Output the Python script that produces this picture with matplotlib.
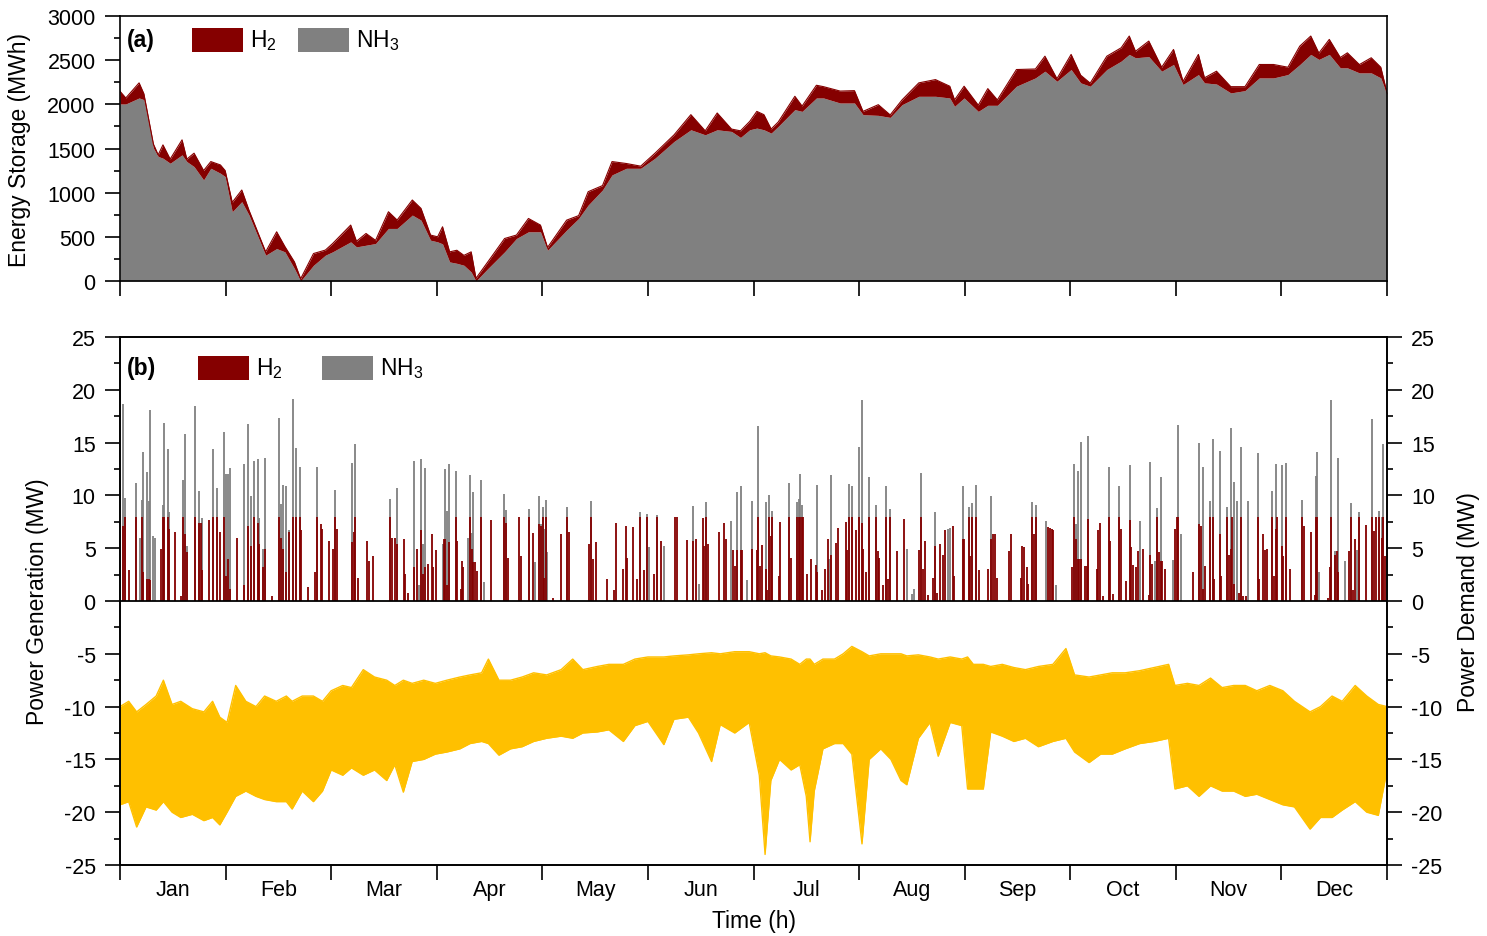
import numpy as np
import matplotlib
matplotlib.use("Agg")
import matplotlib.pyplot as plt
from matplotlib.patches import Rectangle
from matplotlib.ticker import MultipleLocator, FixedLocator

plt.rcParams['font.family'] = ['Liberation Sans', 'DejaVu Sans']
plt.rcParams['mathtext.fontset'] = 'custom'
plt.rcParams['mathtext.rm'] = 'Liberation Sans'
plt.rcParams['mathtext.it'] = 'Liberation Sans:italic'
plt.rcParams['mathtext.bf'] = 'Liberation Sans:bold'
plt.rcParams['axes.unicode_minus'] = False

# ---------------- data ----------------
months = ['Jan', 'Feb', 'Mar', 'Apr', 'May', 'Jun', 'Jul', 'Aug', 'Sep', 'Oct', 'Nov', 'Dec']
month_edges = [0, 730, 1460, 2190, 2920, 3650, 4380, 5110, 5840, 6570, 7300, 8030, 8760]

# (a) energy storage: hour, total (H2 + NH3 top), NH3 level (MWh)
storage_hours = [0, 40, 132, 165, 231, 264, 297, 347, 429, 462, 512, 578, 628, 694, 727, 776, 842, 892,
                 1007, 1083, 1140, 1206, 1249, 1338, 1420, 1470, 1595, 1635, 1701, 1767, 1856, 1916,
                 2021, 2081, 2147, 2196, 2230, 2279, 2329, 2378, 2428, 2461, 2543, 2659, 2741, 2824,
                 2907, 2956, 3088, 3171, 3237, 3336, 3402, 3501, 3600, 3699, 3831, 3947, 4046, 4129,
                 4228, 4290, 4354, 4403, 4452, 4502, 4551, 4666, 4716, 4815, 4864, 4979, 5078, 5137,
                 5243, 5325, 5407, 5523, 5638, 5737, 5770, 5836, 5934, 6000, 6066, 6198, 6329, 6395,
                 6478, 6576, 6642, 6708, 6823, 6922, 6978, 7021, 7113, 7202, 7284, 7350, 7456, 7498,
                 7581, 7680, 7778, 7877, 7976, 8075, 8157, 8233, 8289, 8361, 8437, 8486, 8569, 8651,
                 8717, 8760]
storage_total = [2148, 2072, 2243, 2120, 1550, 1428, 1541, 1380, 1598, 1380, 1447, 1250, 1352, 1314, 1250,
                 890, 1030, 800, 330, 557, 390, 216, 25, 311, 350, 424, 633, 450, 538, 460, 784, 690,
                 917, 822, 520, 500, 614, 330, 348, 290, 330, 30, 216, 481, 520, 708, 633, 380, 689,
                 740, 1011, 1080, 1352, 1330, 1300, 1447, 1655, 1883, 1700, 1902, 1720, 1700, 1807,
                 1920, 1883, 1720, 1800, 2091, 1980, 2216, 2200, 2150, 2155, 1920, 1996, 1880, 2050,
                 2243, 2280, 2205, 2050, 2205, 1990, 2178, 2050, 2394, 2400, 2545, 2290, 2565, 2330,
                 2240, 2545, 2640, 2773, 2600, 2716, 2420, 2621, 2260, 2565, 2300, 2375, 2200, 2200,
                 2451, 2451, 2420, 2659, 2773, 2580, 2735, 2530, 2583, 2450, 2527, 2420, 2130]
storage_nh3 = [2004, 2004, 2072, 2053, 1504, 1410, 1390, 1333, 1428, 1352, 1295, 1144, 1276, 1220, 1182,
               784, 898, 746, 292, 367, 330, 140, 0, 178, 292, 330, 443, 386, 405, 424, 595, 595,
               746, 689, 462, 443, 420, 216, 200, 178, 102, 0, 140, 330, 481, 557, 557, 348, 576,
               708, 860, 1030, 1201, 1276, 1276, 1390, 1580, 1712, 1655, 1712, 1693, 1625, 1712,
               1731, 1712, 1674, 1750, 1940, 1920, 2072, 2072, 2015, 2015, 1883, 1875, 1852, 1996,
               2091, 2091, 2072, 1977, 2072, 1920, 1989, 1989, 2205, 2299, 2375, 2261, 2394, 2243,
               2205, 2394, 2489, 2565, 2527, 2540, 2375, 2451, 2224, 2337, 2243, 2230, 2129, 2155,
               2299, 2299, 2337, 2450, 2565, 2508, 2565, 2413, 2413, 2356, 2356, 2299, 2110]

# (b) power generation events: hour, H2 (MW), NH3 (MW)
gen_hours = [18, 37, 65, 111, 138, 152, 159, 184, 198, 210, 226, 242, 283, 300, 307, 332, 341, 383, 422,
             438, 449, 466, 521, 544, 558, 569, 618, 641, 668, 691, 717, 731, 744, 761, 811, 857, 883,
             906, 929, 952, 961, 986, 1000, 1051, 1097, 1111, 1127, 1145, 1168, 1194, 1217, 1242, 1251,
             1300, 1348, 1364, 1387, 1399, 1443, 1475, 1484, 1498, 1602, 1618, 1627, 1643, 1705, 1724,
             1747, 1867, 1881, 1901, 1917, 1964, 1973, 1991, 2035, 2051, 2070, 2083, 2097, 2109, 2132,
             2157, 2166, 2185, 2231, 2240, 2249, 2263, 2275, 2323, 2332, 2355, 2362, 2374, 2404, 2420,
             2431, 2441, 2454, 2466, 2494, 2517, 2563, 2657, 2671, 2683, 2761, 2775, 2826, 2858, 2872,
             2899, 2911, 2922, 2934, 2945, 2955, 2996, 3047, 3093, 3102, 3240, 3259, 3273, 3289, 3365,
             3416, 3429, 3475, 3498, 3508, 3547, 3572, 3595, 3623, 3641, 3658, 3692, 3715, 3738, 3759,
             3837, 3849, 3923, 3959, 3980, 4005, 4029, 4040, 4052, 4063, 4144, 4176, 4190, 4224, 4236,
             4252, 4268, 4291, 4303, 4337, 4367, 4402, 4413, 4425, 4439, 4464, 4476, 4487, 4499, 4508,
             4554, 4563, 4628, 4637, 4678, 4692, 4702, 4715, 4725, 4748, 4775, 4810, 4821, 4851, 4872,
             4893, 4902, 4914, 4948, 4964, 5017, 5027, 5040, 5061, 5089, 5109, 5128, 5139, 5158, 5181,
             5227, 5239, 5250, 5275, 5298, 5308, 5324, 5370, 5423, 5444, 5474, 5490, 5522, 5540, 5552,
             5566, 5589, 5619, 5637, 5651, 5669, 5692, 5706, 5725, 5739, 5757, 5766, 5826, 5835, 5870,
             5877, 5893, 5921, 5937, 6004, 6020, 6034, 6050, 6061, 6144, 6163, 6227, 6239, 6250, 6269,
             6280, 6308, 6317, 6331, 6405, 6418, 6430, 6442, 6453, 6471, 6580, 6596, 6608, 6621, 6633,
             6642, 6670, 6684, 6693, 6753, 6764, 6776, 6794, 6836, 6847, 6868, 6907, 6919, 6956, 6981,
             6993, 7006, 7022, 7036, 7050, 7075, 7112, 7124, 7133, 7156, 7172, 7181, 7195, 7207, 7225,
             7283, 7297, 7310, 7317, 7336, 7421, 7462, 7474, 7488, 7499, 7536, 7555, 7564, 7605, 7615,
             7656, 7665, 7679, 7691, 7702, 7725, 7737, 7748, 7767, 7785, 7799, 7866, 7877, 7900, 7919,
             7930, 7963, 7979, 7990, 8002, 8034, 8043, 8062, 8089, 8175, 8186, 8232, 8262, 8271, 8278,
             8292, 8354, 8366, 8375, 8400, 8412, 8424, 8472, 8495, 8511, 8523, 8541, 8555, 8566, 8615,
             8659, 8670, 8682, 8707, 8725, 8735, 8744]
gen_h2 = [7.1, 8.0, 2.9, 8.0, 0, 8.0, 2.7, 2.1, 2.1, 2.0, 0, 0, 4.9, 8.0, 8.0, 8.0, 6.8, 6.5, 0.5,
          8.0, 6.3, 4.6, 8.0, 7.4, 7.4, 2.9, 7.7, 8.0, 8.0, 6.5, 8.0, 2.4, 4.0, 1.1, 6.0, 1.5, 7.1,
          5.2, 8.0, 7.4, 5.4, 3.2, 4.9, 0.5, 8.0, 6.0, 4.9, 2.7, 6.5, 8.0, 8.0, 8.0, 6.7,
          1.3, 2.7, 8.0, 7.3, 6.8, 5.7, 4.9, 8.0, 6.8, 5.6, 6.5, 8.0, 2.2, 5.7, 3.8,
          4.3, 8.0, 6.0, 6.0, 5.4, 5.9, 2.6, 0.8, 3.2, 4.9, 0, 6.7, 2.6, 3.2, 3.5,
          6.3, 3.2, 4.8, 0, 5.9, 5.9, 1.5, 5.6, 8.0, 5.7, 1.1, 3.8, 3.2, 0, 8.0,
          4.9, 3.7, 3.7, 2.8, 8.0, 0, 7.7, 8.0, 7.4, 4.1, 8.0, 4.3, 8.0, 6.4, 0,
          7.3, 7.1, 8.0, 2.2, 8.0, 0, 0.3, 6.3, 8.0, 6.5, 5.4, 8.0, 4.0, 5.6, 2.1,
          1.0, 7.4, 3.0, 7.1, 4.1, 7.0, 2.1, 8.0, 2.9, 8.0, 0, 2.6, 8.0, 5.7, 0,
          8.0, 8.0, 5.8, 5.7, 5.9, 0, 7.9, 5.2, 8.0, 5.4, 6.5, 7.4, 5.9, 0, 4.8,
          3.3, 4.8, 4.8, 4.8, 0, 4.9, 4.8, 8.0, 3.3, 5.3, 3.0, 1.0, 8.0, 6.2, 8.0,
          2.4, 7.5, 8.0, 4.1, 8.0, 8.0, 8.0, 8.0, 8.0, 2.6, 4.0, 3.4, 2.7, 1.0, 3.0,
          5.9, 0, 4.4, 5.5, 6.9, 7.5, 4.8, 8.0, 8.0, 6.7, 8.0, 7.4, 4.9, 2.7, 8.0,
          8.0, 4.7, 4.1, 1.5, 8.0, 2.1, 8.0, 4.7, 7.8, 0, 0, 0, 4.8, 8.0, 3.0,
          5.7, 0.6, 2.2, 5.2, 0.8, 5.4, 4.4, 6.7, 0, 0, 7.1, 2.4, 5.9, 5.9, 8.0,
          4.3, 8.0, 8.0, 2.9, 3.0, 5.9, 6.3, 6.3, 2.2, 4.7, 6.3, 2.2, 5.2, 5.1, 3.2,
          1.6, 8.0, 6.3, 8.0, 0, 7.0, 6.9, 6.8, 6.7, 0, 3.2, 8.0, 5.9, 4.0, 4.0,
          4.0, 3.3, 3.3, 7.8, 3.0, 6.7, 7.4, 0.5, 8.0, 5.7, 0.7, 8.0, 6.8, 1.9, 7.7,
          5.1, 3.4, 3.2, 4.7, 0, 4.9, 0.6, 4.4, 3.5, 0, 8.0, 4.6, 3.8, 3.8, 3.0,
          0, 6.8, 8.0, 8.0, 0, 2.7, 7.3, 7.1, 1.1, 3.3, 8.0, 8.0, 2.1, 6.3, 2.4,
          8.0, 4.4, 4.9, 8.0, 1.6, 0, 0.8, 8.0, 0.5, 0.5, 0, 8.0, 2.1, 6.3, 4.8,
          4.9, 8.0, 2.4, 6.8, 8.0, 5.2, 4.3, 8.0, 3.0, 8.0, 7.1, 6.5, 0.6, 8.0, 8.0,
          0, 0.3, 3.2, 8.0, 4.4, 4.7, 2.7, 0, 4.7, 8.0, 1.0, 5.9, 0, 8.0, 7.2,
          8.0, 6.6, 8.0, 8.0, 6.0, 8.0, 4.3]
gen_nh3 = [18.7, 9.8, 0, 11.2, 6.0, 9.6, 14.1, 12.2, 9.5, 18.1, 6.2, 6.0, 0, 9.1, 16.9, 14.4, 8.4, 0, 0,
           11.5, 15.8, 5.2, 18.5, 10.4, 0, 7.9, 0, 14.4, 10.7, 0, 16.0, 12.0, 12.0, 12.6, 0, 13.0, 16.8,
           9.9, 13.3, 13.4, 7.9, 4.9, 13.5, 0, 17.3, 9.2, 11.0, 10.9, 6.7, 19.1, 14.5, 12.7, 0,
           0, 0, 12.7, 0, 0, 0, 0, 10.5, 0, 13.1, 0, 14.9, 0, 0, 0,
           0, 9.7, 0, 0, 10.7, 0, 0, 0, 13.3, 0, 1.5, 13.4, 5.4, 12.6, 0,
           0, 0, 0, 5.4, 0, 12.5, 8.5, 13.0, 12.3, 0, 0, 0, 0, 6.0, 11.9,
           6.4, 10.3, 0, 0, 11.5, 1.8, 0, 10.1, 8.6, 0, 0, 0, 8.7, 0, 3.7,
           9.9, 7.3, 8.9, 6.8, 9.6, 4.6, 0, 0, 8.9, 0, 0, 9.5, 0, 0, 0,
           0, 0, 0, 0, 0, 0, 0, 8.4, 0, 8.2, 5.1, 0, 8.1, 0, 5.2,
           0, 0, 0, 9.0, 0, 1.6, 0, 0, 9.4, 0, 0, 0, 0, 7.6, 0,
           0, 10.3, 10.9, 0, 2.0, 9.5, 0, 16.6, 0, 0, 9.4, 0, 10.0, 0, 8.5,
           0, 0, 11.2, 0, 9.4, 9.7, 12.0, 9.1, 0, 0, 0, 0, 11.0, 0, 0,
           0, 4.0, 11.9, 0, 0, 0, 0, 11.1, 10.9, 0, 14.6, 19.0, 0, 0, 11.7,
           9.1, 0, 0, 0, 10.9, 0, 8.7, 0, 0, 4.9, 0.7, 1.1, 0, 12.1, 0,
           0, 0, 0, 8.4, 0, 0, 0, 0, 6.8, 6.9, 0, 0, 10.9, 0, 8.9,
           0, 9.3, 11.0, 0, 0, 9.9, 0, 0, 0, 0, 0, 0, 0, 0, 0,
           0, 9.4, 0, 9.1, 7.6, 0, 0, 0, 0, 1.5, 0, 13.0, 7.3, 12.3, 0,
           15.1, 0, 0, 15.6, 0, 0, 0, 0, 12.7, 0, 0, 10.9, 0, 0, 12.9,
           0, 0, 0, 0, 7.6, 0, 0, 13.2, 0, 3.8, 8.8, 0, 11.7, 0, 0,
           3.9, 0, 0, 16.7, 6.3, 0, 15.0, 0, 12.7, 0, 9.5, 15.3, 0, 14.2, 0,
           8.9, 0, 16.4, 0, 11.3, 9.5, 0, 14.6, 0, 0, 9.5, 14.0, 0, 0, 0,
           0, 10.4, 0, 13.0, 0, 12.9, 0, 13.1, 0, 9.6, 0, 0, 0, 11.8, 14.1,
           2.7, 0, 0, 19.0, 4.7, 0, 13.5, 3.8, 0, 9.3, 0, 0, 4.8, 8.4, 0,
           17.2, 0, 0, 8.5, 8.0, 14.9, 0]

# (b) power demand envelope: hour, upper (daily max), lower (daily min) in MW
demand_hours = [0, 60, 115, 180, 250, 300, 360, 420, 500, 580, 640, 690, 740, 800, 870, 940, 1000, 1080,
                1150, 1190, 1260, 1337, 1400, 1460, 1540, 1600, 1682, 1760, 1844, 1900, 1959, 2020, 2100,
                2180, 2260, 2350, 2420, 2500, 2547, 2620, 2700, 2780, 2860, 2950, 3050, 3130, 3200, 3300,
                3380, 3480, 3560, 3650, 3760, 3830, 3930, 4000, 4090, 4150, 4250, 4350, 4420, 4460, 4500,
                4560, 4640, 4700, 4745, 4771, 4800, 4860, 4940, 5000, 5060, 5130, 5180, 5260, 5330, 5400,
                5440, 5520, 5600, 5657, 5740, 5820, 5860, 5900, 5969, 6020, 6100, 6180, 6260, 6350, 6450,
                6540, 6600, 6700, 6780, 6860, 6950, 7050, 7150, 7250, 7294, 7380, 7460, 7540, 7620, 7700,
                7780, 7860, 7950, 8040, 8120, 8228, 8300, 8380, 8450, 8540, 8620, 8700, 8760]
demand_upper = [-10.0, -9.5, -10.5, -9.8, -9.0, -7.5, -9.8, -9.5, -10.2, -10.5, -9.5, -11.0, -11.5, -8.0,
                -9.5, -10.0, -9.0, -9.5, -9.0, -9.5, -9.0, -9.0, -9.5, -8.5, -8.0, -8.2, -6.5, -7.2, -7.5,
                -8.0, -7.5, -7.8, -7.5, -7.8, -7.5, -7.2, -7.0, -6.8, -5.5, -7.5, -7.5, -7.2, -6.8, -7.0,
                -6.5, -5.5, -6.5, -6.2, -6.0, -6.0, -5.5, -5.3, -5.3, -5.2, -5.1, -5.0, -4.9, -5.0, -4.8,
                -4.8, -5.0, -4.9, -5.2, -5.3, -5.5, -6.0, -5.5, -5.5, -6.0, -5.5, -5.5, -5.0, -4.3, -4.8,
                -5.2, -5.0, -5.0, -5.0, -5.2, -5.1, -5.3, -5.5, -5.3, -5.5, -5.3, -6.0, -6.0, -6.2, -6.0,
                -6.3, -6.5, -6.2, -6.0, -4.5, -7.0, -7.2, -7.0, -6.8, -6.8, -6.6, -6.3, -6.0, -8.0, -7.8,
                -8.0, -7.3, -8.2, -8.0, -8.0, -8.5, -8.0, -8.5, -9.5, -10.5, -10.0, -9.0, -9.5, -8.0,
                -9.0, -9.8, -10.0]
demand_lower = [-19.3, -19.0, -21.4, -19.5, -19.8, -19.0, -20.0, -20.5, -20.2, -20.8, -20.5, -21.2, -20.0,
                -18.5, -18.0, -18.5, -18.8, -19.0, -19.0, -19.7, -18.0, -19.0, -18.0, -16.0, -16.5, -15.8,
                -16.5, -16.0, -17.0, -15.5, -18.1, -15.2, -15.0, -14.5, -14.3, -14.0, -13.5, -13.3, -13.5,
                -14.6, -14.0, -13.8, -13.3, -13.0, -12.8, -13.0, -12.5, -12.4, -12.2, -13.3, -11.8, -11.4,
                -13.6, -11.2, -11.0, -12.5, -15.2, -11.7, -12.5, -11.5, -16.5, -24.0, -17.0, -15.0, -16.0,
                -15.5, -18.5, -22.8, -18.0, -14.0, -13.5, -13.5, -14.5, -23.0, -15.0, -14.0, -15.0, -17.0,
                -17.4, -13.0, -11.5, -14.7, -11.5, -11.8, -17.8, -17.8, -17.8, -12.4, -12.8, -13.3, -13.0,
                -13.8, -13.3, -13.0, -14.3, -15.3, -14.5, -14.5, -14.0, -13.5, -13.3, -13.0, -17.8, -17.5,
                -18.5, -17.5, -18.0, -18.0, -18.5, -18.3, -18.8, -19.3, -19.5, -21.6, -20.5, -20.5, -19.8,
                -19.0, -20.0, -20.3, -16.0]

# ---------------- styling ----------------
RED = '#850000'
GREY = '#808080'
YELLOW = '#FFC000'
W, H = 1487, 937
TICK_FS = 15.5
LABEL_FS = 16.5


def fx(px):
    return px / W


def fy(py):
    return 1 - py / H


fig = plt.figure(figsize=(W / 100, H / 100), dpi=100)
ax1 = fig.add_axes([fx(120), fy(282), fx(1387) - fx(120), fy(17) - fy(282)])
ax2 = fig.add_axes([fx(120), fy(866), fx(1387) - fx(120), fy(338) - fy(866)])

for ax in (ax1, ax2):
    for sp in ax.spines.values():
        sp.set_linewidth(1.2)
    ax.set_xlim(0, 8760)
    ax.xaxis.set_major_locator(FixedLocator(month_edges))
    ax.tick_params(axis='x', which='major', direction='out', length=10.5, width=1.2,
                   top=False, labelbottom=False)
    ax.tick_params(axis='y', which='major', direction='out', length=10.5, width=1.2,
                   labelsize=TICK_FS, pad=7)
    ax.tick_params(axis='y', which='minor', direction='out', length=4.5, width=1.2)

# ---- (a) storage ----
sh = np.array(storage_hours)
st = np.array(storage_total)
sn = np.array(storage_nh3)
ax1.fill_between(sh, 0, sn, color=GREY, lw=0)
ax1.fill_between(sh, sn, st, color=RED, lw=0)
ax1.plot(sh, st, color=RED, lw=0.8)
ax1.set_ylim(0, 3000)
ax1.yaxis.set_major_locator(MultipleLocator(500))
ax1.yaxis.set_minor_locator(MultipleLocator(250))
ax1.tick_params(axis='y', which='both', right=False)

# ---- (b) generation & demand ----
ax2.fill_between(demand_hours, demand_lower, demand_upper, color=YELLOW, lw=0)
ax2.plot(demand_hours, demand_lower, color=YELLOW, lw=1.0)
ax2.plot(demand_hours, demand_upper, color=YELLOW, lw=1.0)
ax2.vlines(gen_hours, 0, gen_nh3, color=GREY, lw=1.3)
ax2.vlines(gen_hours, 0, gen_h2, color=RED, lw=1.3)
ax2.axhline(0, color='black', lw=1.3)
ax2.set_ylim(-25, 25)
ax2.yaxis.set_major_locator(MultipleLocator(5))
ax2.yaxis.set_minor_locator(MultipleLocator(2.5))
mid = [(month_edges[i] + month_edges[i + 1]) / 2 for i in range(12)]
ax2.set_xticks(mid, months, minor=True)
ax2.tick_params(axis='x', which='minor', length=0, labelsize=TICK_FS, pad=10, labelbottom=True)

ax2r = ax2.twinx()
ax2r.set_ylim(-25, 25)
ax2r.yaxis.set_major_locator(MultipleLocator(5))
ax2r.yaxis.set_minor_locator(MultipleLocator(2.5))
ax2r.tick_params(axis='y', which='major', direction='out', length=10.5, width=1.2,
                 labelsize=TICK_FS, pad=7)
ax2r.tick_params(axis='y', which='minor', direction='out', length=4.5, width=1.2)
for sp in ax2r.spines.values():
    sp.set_linewidth(1.2)

# ---- labels ----
fig.text(fx(20), fy(150), 'Energy Storage (MWh)', rotation=90, ha='center', va='center', fontsize=LABEL_FS)
fig.text(fx(38), fy(602), 'Power Generation (MW)', rotation=90, ha='center', va='center', fontsize=LABEL_FS)
fig.text(fx(1469), fy(602), 'Power Demand (MW)', rotation=90, ha='center', va='center', fontsize=LABEL_FS)
fig.text(fx(754), fy(922), 'Time (h)', ha='center', va='center', fontsize=LABEL_FS)

# ---- legends ----
def legend(tag, y_c, x_tag, x_red, x_grey):
    fig.text(fx(x_tag), fy(y_c), tag, ha='left', va='center', fontsize=LABEL_FS, fontweight='bold')
    for x0, c, lab in ((x_red, RED, 'H$_2$'), (x_grey, GREY, 'NH$_3$')):
        fig.add_artist(Rectangle((fx(x0), fy(y_c + 12)), fx(51), 24 / H, transform=fig.transFigure,
                                 facecolor=c, edgecolor='none'))
        fig.text(fx(x0 + 58), fy(y_c), lab, ha='left', va='center', fontsize=LABEL_FS)

legend('(a)', 41, 127, 192, 298)
legend('(b)', 369, 127, 198, 322)

fig.savefig('out.png', dpi=100)
